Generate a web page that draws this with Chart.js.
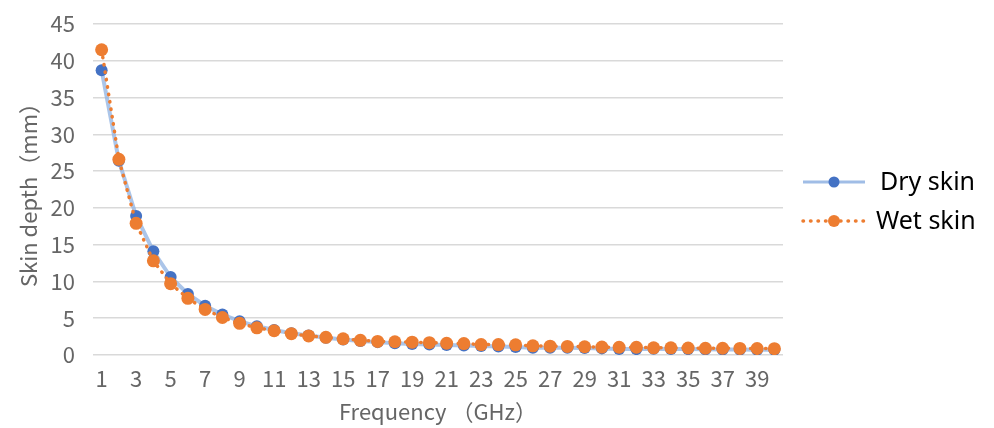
<!DOCTYPE html>
<html><head><meta charset="utf-8">
<script src="https://cdn.jsdelivr.net/npm/chart.js@4"></script>
<style>html,body{margin:0;padding:0;background:#fff}#w{width:994px;height:428px;position:relative}</style>
</head><body><div id="w"><canvas id="c"></canvas></div>
<script>
const categories = [];
for (let i = 1; i <= 40; i++) categories.push(String(i));
const drySkin = [38.7, 26.4, 18.9, 14.1, 10.6, 8.3, 6.7, 5.5, 4.6, 3.9,
  3.4, 2.95, 2.65, 2.35, 2.1, 1.9, 1.75, 1.6, 1.5, 1.42,
  1.35, 1.28, 1.22, 1.16, 1.1, 1.0, 1.0, 0.97, 0.94, 0.9,
  0.82, 0.8, 0.84, 0.82, 0.8, 0.78, 0.76, 0.74, 0.72, 0.7];
const wetSkin = [41.5, 26.6, 17.9, 12.8, 9.7, 7.7, 6.2, 5.1, 4.3, 3.7,
  3.3, 2.9, 2.6, 2.4, 2.2, 2.0, 1.85, 1.8, 1.75, 1.68,
  1.6, 1.55, 1.42, 1.42, 1.38, 1.25, 1.2, 1.17, 1.12, 1.08,
  1.05, 1.05, 0.98, 0.98, 0.95, 0.92, 0.92, 0.9, 0.88, 0.86];
const yTicks = [0, 5, 10, 15, 20, 25, 30, 35, 40, 45];
const seriesNames = ['Dry skin', 'Wet skin'];

const FONT = '"Noto Sans CJK SC", "Noto Sans", sans-serif';
const legendPlugin = {
  id: 'customLegend',
  afterDraw(chart) {
    const ctx = chart.ctx;
    ctx.save();
    // Dry
    let y = 182;
    ctx.strokeStyle = 'rgba(143,178,226,0.85)';
    ctx.lineWidth = 3;
    ctx.beginPath(); ctx.moveTo(803, y); ctx.lineTo(865, y); ctx.stroke();
    ctx.fillStyle = '#4472C4';
    ctx.beginPath(); ctx.arc(834, y, 5.5, 0, Math.PI * 2); ctx.fill();
    ctx.fillStyle = '#000';
    ctx.font = '25px "Noto Sans", sans-serif';
    ctx.textBaseline = 'middle';
    ctx.fillText(seriesNames[0], 880, y + 1);
    // Wet
    y = 221;
    ctx.strokeStyle = '#ED7D31';
    ctx.lineWidth = 3.5;
    ctx.lineCap = 'round';
    ctx.setLineDash([0.5, 7]);
    ctx.beginPath(); ctx.moveTo(803, y); ctx.lineTo(866, y); ctx.stroke();
    ctx.setLineDash([]);
    ctx.fillStyle = '#ED7D31';
    ctx.beginPath(); ctx.arc(834, y, 6, 0, Math.PI * 2); ctx.fill();
    ctx.fillStyle = '#000';
    ctx.fillText(seriesNames[1], 876, y + 1);
    ctx.restore();
  }
};

new Chart(document.getElementById('c'), {
  type: 'line',
  data: {
    labels: categories,
    datasets: [
      {
        label: seriesNames[0], data: drySkin, order: 1,
        borderColor: 'rgba(143,178,226,0.75)', borderWidth: 4,
        pointBackgroundColor: '#4472C4', pointBorderColor: '#4472C4',
        pointRadius: 6, pointBorderWidth: 0, tension: 0
      },
      {
        label: seriesNames[1], data: wetSkin, order: 0,
        borderColor: '#ED7D31', borderWidth: 3.5, borderDash: [0.5, 7], borderCapStyle: 'round',
        pointBackgroundColor: '#ED7D31', pointBorderColor: '#ED7D31',
        pointRadius: 6.5, pointBorderWidth: 0, tension: 0
      }
    ]
  },
  options: {
    responsive: true, maintainAspectRatio: false, animation: false,
    layout: { padding: { left: 0, right: 211, top: 24, bottom: 0 } },
    plugins: { legend: { display: false }, tooltip: { enabled: false } },
    scales: {
      x: {
        offset: true,
        grid: { display: false, drawTicks: false },
        border: { display: false },
        ticks: {
          autoSkip: false, maxRotation: 0, minRotation: 0, padding: 10,
          color: '#666', font: { family: FONT, size: 22 },
          callback: function (v, i) { return i % 2 === 0 ? categories[i] : ''; }
        },
        title: { display: true, text: 'Frequency （GHz）', color: '#666', font: { family: FONT, size: 22 }, padding: { top: 4, bottom: 3 } },
        afterFit(s) { s.height = 73; }
      },
      y: {
        min: 0, max: 45,
        afterBuildTicks(s) { s.ticks = yTicks.map(v => ({ value: v })); },
        grid: { color: '#d9d9d9', lineWidth: 1.5, drawTicks: false },
        border: { display: false },
        ticks: { padding: 18, color: '#666', font: { family: FONT, size: 22 } },
        title: { display: true, text: 'Skin depth（mm）', color: '#666', font: { family: FONT, size: 22 }, padding: { top: 15, bottom: 0 } },
        afterFit(s) { s.width = 93; s.paddingTop = 0; s.paddingBottom = 0; }
      }
    }
  },
  plugins: [legendPlugin]
});
</script></body></html>
